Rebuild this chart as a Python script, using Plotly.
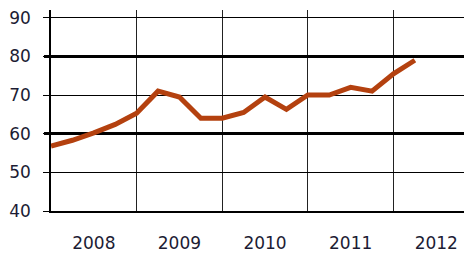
import plotly.graph_objects as go

# Quarterly index (0 = start of 2008)
quarters = list(range(18))
values = [56.8, 58.3, 60.2, 62.4, 65.3, 71.0, 69.5, 64.0, 64.0, 65.5,
          69.5, 66.3, 70.0, 70.0, 72.0, 71.0, 75.5, 79.0]

year_labels = ["2008", "2009", "2010", "2011", "2012"]
year_centers = [2, 6, 10, 14, 18]
year_bounds = [0, 4, 8, 12, 16]
y_ticks = [40, 50, 60, 70, 80, 90]
y_bold = [60, 80]

font = dict(family="DejaVu Sans", size=17, color="#1c1c34")

fig = go.Figure()
# empty helper trace so the overlay axis (bold gridlines) is drawn
fig.add_trace(go.Scatter(x=[None], y=[None], yaxis="y2", mode="lines",
                         showlegend=False, hoverinfo="skip"))
fig.add_trace(go.Scatter(
    x=quarters, y=values, mode="lines",
    line=dict(color="#b4410f", width=5),
    showlegend=False, hoverinfo="skip",
))

# the page body adds an 8px offset, so margins compensate
fig.update_layout(
    width=472, height=255,
    margin=dict(l=43, r=8, t=2, b=52),
    paper_bgcolor="white", plot_bgcolor="white",
    font=font,
    xaxis=dict(
        range=[0, 19.67], automargin=False,
        tickvals=year_centers, ticktext=year_labels,
        showgrid=False, ticks="", zeroline=False,
        showline=True, linecolor="black", linewidth=2,
        ticklabelstandoff=16,
        minor=dict(tickvals=year_bounds, showgrid=True,
                   gridcolor="#222222", gridwidth=1, ticks=""),
        tickfont=font,
    ),
    yaxis=dict(
        range=[40, 92], automargin=False,
        tickvals=y_ticks,
        showgrid=True, gridcolor="black", gridwidth=1.2,
        ticks="outside", ticklen=6, tickcolor="black", tickwidth=1.2,
        zeroline=False,
        showline=True, linecolor="black", linewidth=1.5,
        ticklabelstandoff=9, ticklabeloverflow="allow",
        tickfont=font,
    ),
    yaxis2=dict(
        overlaying="y", anchor="x", side="left",
        range=[40, 92], automargin=False,
        tickvals=y_bold,
        showgrid=True, gridcolor="black", gridwidth=2.5,
        ticks="outside", ticklen=6, tickcolor="black", tickwidth=2.5,
        showticklabels=False, zeroline=False, showline=False,
    ),
)

fig.write_html("out.html")
